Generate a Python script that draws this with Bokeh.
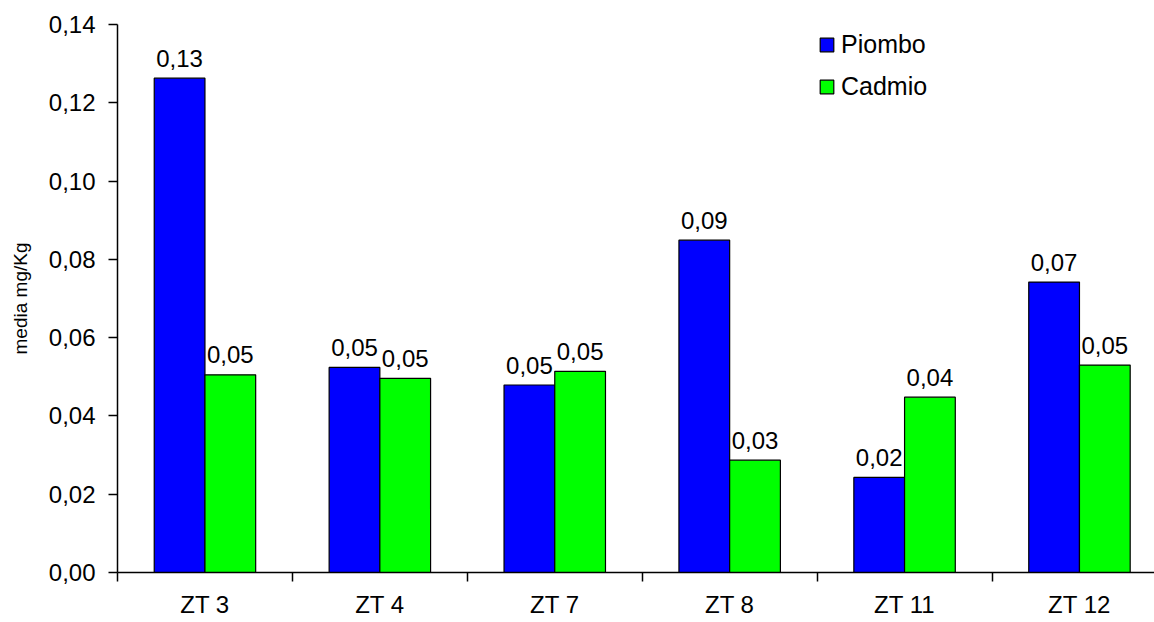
from bokeh.plotting import figure
from bokeh.models import Range1d, FixedTicker, Legend, LegendItem, ColumnDataSource
from bokeh.embed import file_html
from bokeh.resources import INLINE
from bokeh.core.properties import value

# ---- data ----
categories = ["ZT 3", "ZT 4", "ZT 7", "ZT 8", "ZT 11", "ZT 12"]
series_names = ["Piombo", "Cadmio"]
piombo = [0.1263, 0.0524, 0.0479, 0.0849, 0.0243, 0.0742]
cadmio = [0.0505, 0.0496, 0.0514, 0.0287, 0.0448, 0.0530]
piombo_labels = ["0,13", "0,05", "0,05", "0,09", "0,02", "0,07"]
cadmio_labels = ["0,05", "0,05", "0,05", "0,03", "0,04", "0,05"]
y_ticks = [0.00, 0.02, 0.04, 0.06, 0.08, 0.10, 0.12, 0.14]
y_tick_labels = ["0,00", "0,02", "0,04", "0,06", "0,08", "0,10", "0,12", "0,14"]
y_axis_title = "media mg/Kg"
colors = ["#0000FF", "#00FF00"]

FONT = "Liberation Sans"
BAR_W = 0.29

n = len(categories)
centers = [i + 0.5 for i in range(n)]

src_p = ColumnDataSource(dict(x=[c - BAR_W / 2 for c in centers], top=piombo, lab=piombo_labels))
src_c = ColumnDataSource(dict(x=[c + BAR_W / 2 for c in centers], top=cadmio, lab=cadmio_labels))

p = figure(width=1154, height=620, x_range=Range1d(0, 5.929), y_range=Range1d(0, 0.14),
           output_backend="svg", toolbar_location=None,
           min_border_left=117, min_border_right=0, min_border_top=24, min_border_bottom=44)
p.outline_line_color = None
p.xgrid.visible = False
p.ygrid.visible = False
p.background_fill_color = "white"
p.border_fill_color = "white"

r1 = p.vbar(x="x", top="top", width=BAR_W, bottom=0, source=src_p,
            fill_color=colors[0], line_color="black", line_width=1.2)
r2 = p.vbar(x="x", top="top", width=BAR_W, bottom=0, source=src_c,
            fill_color=colors[1], line_color="black", line_width=1.2)

for s in (src_p, src_c):
    p.text(x="x", y="top", text="lab", source=s, text_align="center",
           text_baseline="alphabetic", y_offset=-20,
           text_font=value(FONT), text_font_size=value("24px"), text_color="black")

# x axis
xa = p.xaxis[0]
xa.ticker = FixedTicker(ticks=centers, minor_ticks=list(range(n + 1)))
xa.major_label_overrides = {c: lab for c, lab in zip(centers, categories)}
xa.major_tick_out = 0
xa.major_tick_in = 0
xa.minor_tick_out = 9
xa.minor_tick_in = 0
xa.minor_tick_line_color = "black"
xa.minor_tick_line_width = 1.5
xa.axis_line_color = "black"
xa.axis_line_width = 1.5
xa.major_label_text_font = FONT
xa.major_label_text_font_size = "24px"
xa.major_label_text_color = "black"
xa.major_label_standoff = 9

# y axis
ya = p.yaxis[0]
ya.ticker = FixedTicker(ticks=y_ticks, minor_ticks=[])
ya.major_label_overrides = {t: lab for t, lab in zip(y_ticks, y_tick_labels)}
ya.major_tick_out = 9
ya.major_tick_in = 0
ya.major_tick_line_width = 1.5
ya.axis_line_width = 1.5
ya.axis_line_color = "black"
ya.major_label_text_font = FONT
ya.major_label_text_font_size = "24px"
ya.major_label_text_color = "black"
ya.major_label_standoff = 13
ya.axis_label = y_axis_title
ya.axis_label_text_font = FONT
ya.axis_label_text_font_size = "19px"
ya.axis_label_text_font_style = "normal"
ya.axis_label_text_color = "black"
ya.axis_label_standoff = 15

legend = Legend(items=[LegendItem(label=series_names[0], renderers=[r1]),
                       LegendItem(label=series_names[1], renderers=[r2])],
                location=(701, 471), orientation="vertical",
                glyph_width=17, glyph_height=17, label_standoff=6, spacing=13,
                padding=0, margin=0, border_line_color=None, background_fill_alpha=0,
                label_text_font=FONT, label_text_font_size="25px", label_text_color="black")
p.add_layout(legend, "center")

open("out.html", "w").write(file_html(p, INLINE))
